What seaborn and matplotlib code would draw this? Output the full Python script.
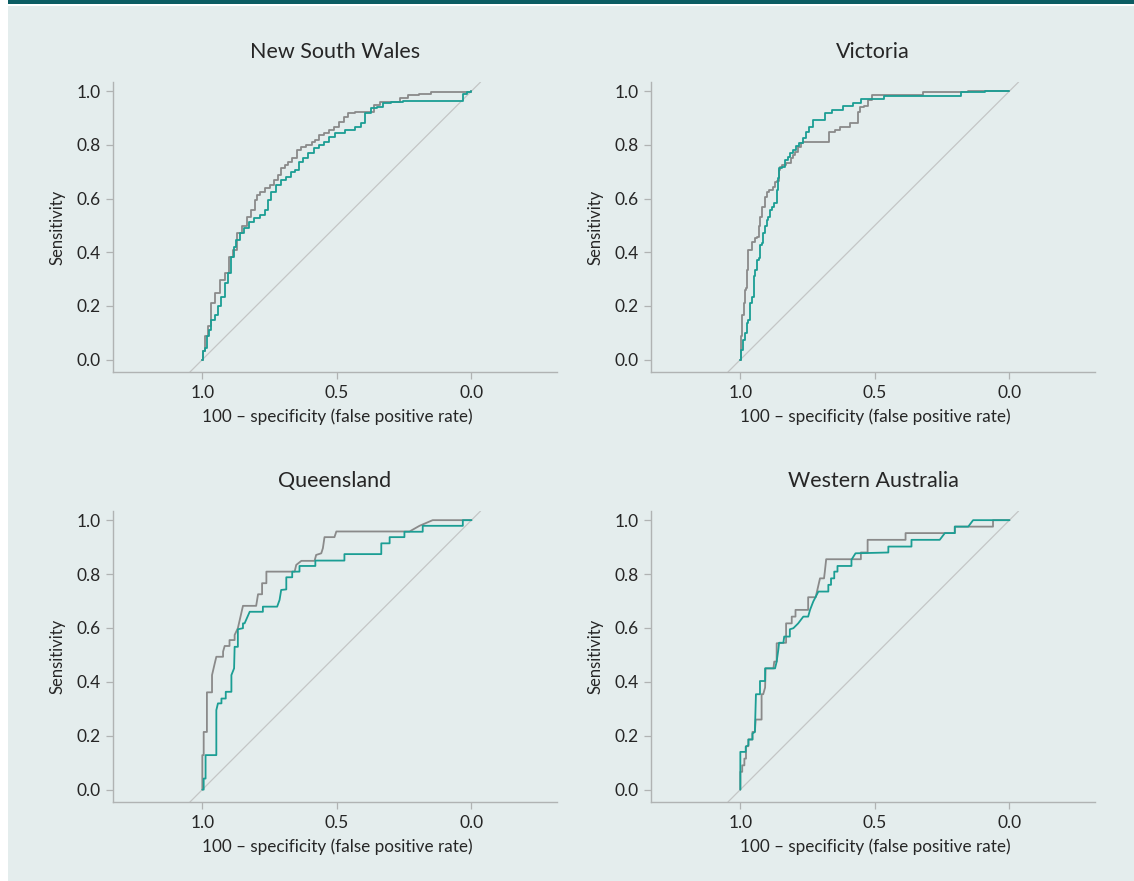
import matplotlib
matplotlib.use("Agg")
import matplotlib.pyplot as plt
import seaborn as sns
from matplotlib.patches import Rectangle

# ---------------- data ----------------
panels = ["New South Wales", "Victoria", "Queensland", "Western Australia"]

nsw_grey_spec = [1.0, 0.995, 0.985, 0.975, 0.960, 0.948, 0.923, 0.911, 0.892, 0.880, 0.861, 0.843, 0.824, 0.812,
                 0.800, 0.793, 0.775, 0.756, 0.744, 0.725, 0.713, 0.700, 0.688, 0.676, 0.657, 0.639, 0.626, 0.601,
                 0.583, 0.577, 0.558, 0.540, 0.521, 0.502, 0.484, 0.465, 0.453, 0.416, 0.373, 0.354, 0.329, 0.274,
                 0.255, 0.218, 0.168, 0.131, 0.0, 0.0]
nsw_grey_sens = [0.0, 0.031, 0.087, 0.124, 0.211, 0.248, 0.297, 0.322, 0.384, 0.409, 0.471, 0.496, 0.533, 0.558,
                 0.595, 0.613, 0.626, 0.638, 0.651, 0.669, 0.688, 0.713, 0.725, 0.737, 0.750, 0.781, 0.793, 0.799,
                 0.812, 0.818, 0.836, 0.843, 0.855, 0.867, 0.886, 0.905, 0.917, 0.923, 0.923, 0.948, 0.958, 0.958,
                 0.973, 0.985, 0.991, 0.998, 0.998, 1.0]
nsw_teal_spec = [1.0, 0.995, 0.988, 0.979, 0.973, 0.960, 0.948, 0.936, 0.923, 0.911, 0.899, 0.886, 0.880, 0.868,
                 0.855, 0.837, 0.818, 0.800, 0.775, 0.762, 0.750, 0.738, 0.713, 0.700, 0.676, 0.663, 0.651, 0.632,
                 0.620, 0.595, 0.577, 0.558, 0.540, 0.521, 0.490, 0.453, 0.416, 0.403, 0.385, 0.360, 0.342, 0.317,
                 0.280, 0.230, 0.032, 0.032, 0.0, 0.0]
nsw_teal_sens = [0.0, 0.031, 0.043, 0.087, 0.112, 0.149, 0.167, 0.198, 0.235, 0.285, 0.322, 0.384, 0.421, 0.446,
                 0.471, 0.489, 0.514, 0.527, 0.539, 0.558, 0.595, 0.626, 0.651, 0.669, 0.682, 0.700, 0.706, 0.737,
                 0.750, 0.768, 0.787, 0.799, 0.812, 0.830, 0.843, 0.857, 0.865, 0.880, 0.917, 0.936, 0.942, 0.954,
                 0.960, 0.964, 0.964, 0.991, 0.995, 1.0]

vic_grey_spec = [1.0, 0.995, 0.991, 0.985, 0.983, 0.975, 0.973, 0.967, 0.958, 0.952, 0.942, 0.932, 0.929, 0.923,
                 0.913, 0.905, 0.899, 0.886, 0.874, 0.868, 0.861, 0.855, 0.849, 0.839, 0.818, 0.806, 0.800, 0.793,
                 0.781, 0.769, 0.762, 0.676, 0.663, 0.632, 0.626, 0.595, 0.589, 0.571, 0.558, 0.552, 0.527, 0.521,
                 0.502, 0.329, 0.311, 0.0]
vic_grey_sens = [0.0, 0.087, 0.167, 0.211, 0.260, 0.266, 0.335, 0.409, 0.409, 0.440, 0.452, 0.458, 0.496, 0.533,
                 0.570, 0.607, 0.626, 0.632, 0.644, 0.663, 0.665, 0.706, 0.719, 0.725, 0.731, 0.750, 0.762, 0.774,
                 0.793, 0.805, 0.812, 0.812, 0.849, 0.855, 0.865, 0.865, 0.880, 0.882, 0.923, 0.942, 0.944, 0.967,
                 0.985, 0.985, 0.995, 1.0]
vic_teal_spec = [1.0, 0.995, 0.988, 0.979, 0.973, 0.967, 0.960, 0.954, 0.948, 0.942, 0.936, 0.929, 0.923, 0.917,
                 0.911, 0.905, 0.899, 0.892, 0.886, 0.880, 0.868, 0.861, 0.858, 0.855, 0.837, 0.830, 0.818, 0.812,
                 0.800, 0.787, 0.775, 0.762, 0.750, 0.738, 0.725, 0.688, 0.682, 0.639, 0.595, 0.564, 0.540, 0.465,
                 0.465, 0.181, 0.181, 0.0]
vic_teal_sens = [0.0, 0.037, 0.074, 0.099, 0.136, 0.149, 0.211, 0.235, 0.310, 0.335, 0.372, 0.378, 0.428, 0.434,
                 0.471, 0.496, 0.520, 0.533, 0.558, 0.570, 0.582, 0.632, 0.675, 0.713, 0.719, 0.743, 0.756, 0.771,
                 0.781, 0.796, 0.805, 0.824, 0.849, 0.867, 0.892, 0.892, 0.917, 0.929, 0.944, 0.954, 0.969, 0.969,
                 0.981, 0.981, 0.995, 1.0]

qld_grey_spec = [1.0, 1.0, 0.995, 0.995, 0.983, 0.983, 0.964, 0.964, 0.954, 0.948, 0.923, 0.923, 0.917, 0.899,
                 0.899, 0.880, 0.880, 0.868, 0.849, 0.800, 0.793, 0.778, 0.778, 0.762, 0.762, 0.657, 0.651, 0.632,
                 0.583, 0.577, 0.558, 0.552, 0.546, 0.509, 0.502, 0.230, 0.193, 0.144, 0.0]
qld_grey_sens = [0.0, 0.128, 0.128, 0.214, 0.214, 0.361, 0.361, 0.425, 0.468, 0.493, 0.493, 0.512, 0.533, 0.533,
                 0.555, 0.555, 0.574, 0.599, 0.682, 0.682, 0.725, 0.725, 0.766, 0.766, 0.809, 0.809, 0.834, 0.849,
                 0.849, 0.871, 0.877, 0.896, 0.937, 0.937, 0.958, 0.958, 0.979, 1.0, 1.0]
qld_teal_spec = [1.0, 0.995, 0.995, 0.988, 0.988, 0.948, 0.948, 0.942, 0.929, 0.929, 0.913, 0.913, 0.892, 0.892,
                 0.882, 0.880, 0.868, 0.868, 0.849, 0.849, 0.843, 0.824, 0.775, 0.775, 0.722, 0.713, 0.707, 0.688,
                 0.688, 0.666, 0.666, 0.639, 0.639, 0.580, 0.580, 0.472, 0.472, 0.335, 0.335, 0.304, 0.304, 0.249,
                 0.249, 0.181, 0.181, 0.032, 0.032, 0.0]
qld_teal_sens = [0.0, 0.0, 0.041, 0.041, 0.128, 0.128, 0.295, 0.320, 0.320, 0.338, 0.338, 0.363, 0.363, 0.425,
                 0.450, 0.530, 0.530, 0.595, 0.599, 0.617, 0.617, 0.660, 0.660, 0.679, 0.679, 0.704, 0.741, 0.743,
                 0.788, 0.788, 0.809, 0.809, 0.830, 0.830, 0.850, 0.850, 0.874, 0.874, 0.914, 0.914, 0.937, 0.937,
                 0.957, 0.957, 0.979, 0.979, 1.0, 1.0]

wa_grey_spec = [1.0, 1.0, 0.993, 0.993, 0.985, 0.985, 0.979, 0.979, 0.970, 0.970, 0.955, 0.955, 0.946, 0.943,
                0.921, 0.921, 0.915, 0.908, 0.906, 0.877, 0.874, 0.865, 0.865, 0.830, 0.830, 0.809, 0.809, 0.795,
                0.795, 0.748, 0.748, 0.720, 0.704, 0.689, 0.686, 0.681, 0.552, 0.552, 0.527, 0.527, 0.386, 0.386,
                0.203, 0.203, 0.061, 0.061, 0.0]
wa_grey_sens = [0.0, 0.066, 0.066, 0.090, 0.090, 0.115, 0.115, 0.161, 0.161, 0.186, 0.186, 0.214, 0.214, 0.260,
                0.260, 0.354, 0.354, 0.379, 0.450, 0.450, 0.475, 0.475, 0.543, 0.545, 0.617, 0.617, 0.642, 0.642,
                0.667, 0.667, 0.714, 0.714, 0.784, 0.784, 0.809, 0.855, 0.855, 0.880, 0.880, 0.927, 0.927, 0.952,
                0.952, 0.976, 0.976, 1.0, 1.0]
wa_teal_spec = [1.0, 1.0, 0.980, 0.980, 0.970, 0.970, 0.955, 0.955, 0.946, 0.942, 0.927, 0.927, 0.908, 0.908,
                0.871, 0.865, 0.859, 0.856, 0.840, 0.837, 0.816, 0.816, 0.803, 0.785, 0.766, 0.748, 0.741, 0.729,
                0.710, 0.673, 0.673, 0.663, 0.663, 0.651, 0.651, 0.639, 0.639, 0.587, 0.587, 0.572, 0.450, 0.450,
                0.364, 0.364, 0.259, 0.240, 0.203, 0.203, 0.153, 0.135, 0.0]
wa_teal_sens = [0.0, 0.140, 0.140, 0.159, 0.165, 0.186, 0.186, 0.208, 0.214, 0.354, 0.354, 0.403, 0.403, 0.450,
                0.450, 0.475, 0.518, 0.545, 0.545, 0.568, 0.568, 0.595, 0.599, 0.617, 0.642, 0.642, 0.667, 0.698,
                0.735, 0.735, 0.760, 0.760, 0.784, 0.784, 0.809, 0.809, 0.830, 0.830, 0.853, 0.877, 0.880, 0.902,
                0.902, 0.927, 0.927, 0.952, 0.952, 0.976, 0.976, 1.0, 1.0]

curves = {
    "New South Wales": (nsw_grey_spec, nsw_grey_sens, nsw_teal_spec, nsw_teal_sens),
    "Victoria": (vic_grey_spec, vic_grey_sens, vic_teal_spec, vic_teal_sens),
    "Queensland": (qld_grey_spec, qld_grey_sens, qld_teal_spec, qld_teal_sens),
    "Western Australia": (wa_grey_spec, wa_grey_sens, wa_teal_spec, wa_teal_sens),
}
step_style = {"New South Wales": "steps-mid", "Victoria": "steps-mid",
              "Queensland": "default", "Western Australia": "default"}

x_ticks = [1.0, 0.5, 0.0]
x_ticklabels = ["1.0", "0.5", "0.0"]
y_ticks = [0.0, 0.2, 0.4, 0.6, 0.8, 1.0]
y_ticklabels = ["0.0", "0.2", "0.4", "0.6", "0.8", "1.0"]
chance_line = [(1.0, 0.0), (0.0, 1.0)]
xlabel = "100 \u2013 specificity (false positive rate)"
ylabel = "Sensitivity"

# ---------------- style ----------------
BG = "#e4eded"
TEAL = "#1b9e94"
GREY = "#8a8a8a"
TEXT = "#262626"
XLIM = (1.332, -0.318)
YLIM = (-0.046, 1.034)

sns.set_theme(style="white")
plt.rcParams["font.family"] = ["Lato", "DejaVu Sans"]

W, H = 1134, 881
fig = plt.figure(figsize=(W / 100, H / 100), dpi=100, facecolor="white")
fig.patches.append(Rectangle((8 / W, 0), 1 - 8 / W, 1 - 6 / H, transform=fig.transFigure,
                             facecolor=BG, edgecolor="none", zorder=-10))
fig.patches.append(Rectangle((8 / W, 1 - 4 / H), 1 - 8 / W, 4 / H, transform=fig.transFigure,
                             facecolor="#0b5d63", edgecolor="none", zorder=-9))

# axes rectangles in pixel units: left, top, right, bottom
boxes = [(113, 82, 557, 372), (651, 82, 1095, 372),
         (113, 511, 557, 802), (651, 511, 1095, 802)]

for name, (l, t, r, b) in zip(panels, boxes):
    ax = fig.add_axes([l / W, 1 - b / H, (r - l) / W, (b - t) / H])
    ax.set_facecolor("none")
    gs, gy, ts, ty = curves[name]
    ds = step_style[name]
    sns.lineplot(x=gs, y=gy, ax=ax, sort=False, estimator=None, color=GREY,
                 linewidth=1.3, drawstyle=ds, zorder=3)
    sns.lineplot(x=ts, y=ty, ax=ax, sort=False, estimator=None, color=TEAL,
                 linewidth=1.3, drawstyle=ds, zorder=4)
    ax.axline(chance_line[0], chance_line[1], color="#c4c6c6", linewidth=0.9, zorder=2)

    ax.set_xlim(*XLIM)
    ax.set_ylim(*YLIM)
    ax.set_xticks(x_ticks)
    ax.set_xticklabels(x_ticklabels)
    ax.set_yticks(y_ticks)
    ax.set_yticklabels(y_ticklabels)
    ax.tick_params(axis="both", which="both", direction="out", length=5, width=0.9,
                   color="#b0b3b3", labelcolor=TEXT, labelsize=12.5, pad=4,
                   bottom=True, left=True)
    for s in ["top", "right"]:
        ax.spines[s].set_visible(False)
    for s in ["left", "bottom"]:
        ax.spines[s].set_color("#b0b3b3")
        ax.spines[s].set_linewidth(1.0)
    ax.set_xlabel(xlabel, fontsize=12.3, color=TEXT)
    ax.set_ylabel(ylabel, fontsize=12.0, color=TEXT, labelpad=8)
    xc = (XLIM[0] - 0.5) / (XLIM[0] - XLIM[1])
    ax.xaxis.set_label_coords(xc, -36 / (b - t))
    ax.set_title(name, fontsize=15.5, color=TEXT, pad=17)
    ax.grid(False)

fig.savefig("out.png", dpi=100, facecolor=fig.get_facecolor())
